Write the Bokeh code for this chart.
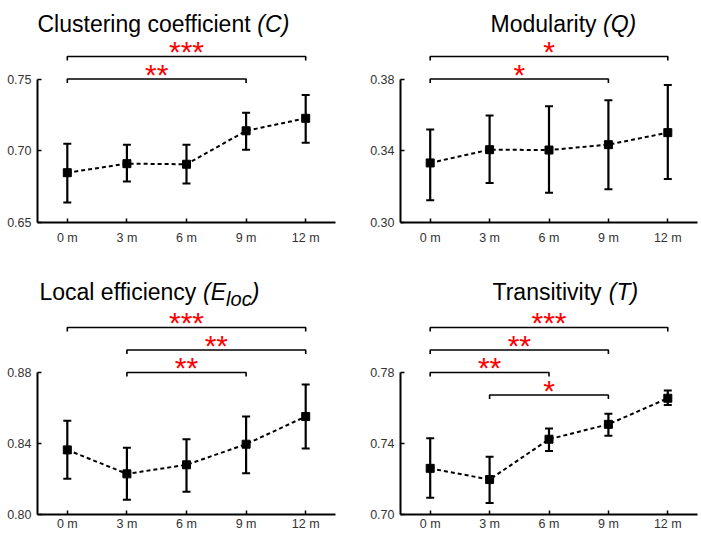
from bokeh.plotting import figure
from bokeh.layouts import row, column
from bokeh.models import Range1d, FixedTicker, PrintfTickFormatter, Whisker, TeeHead, ColumnDataSource
from bokeh.core.properties import value
from bokeh.embed import file_html
from bokeh.resources import INLINE

# ---------------- data ----------------
months = ["0 m", "3 m", "6 m", "9 m", "12 m"]

C_mean = [0.6847, 0.6910, 0.6906, 0.7139, 0.7226]
C_upper = [0.7049, 0.7042, 0.7042, 0.7264, 0.7389]
C_lower = [0.6639, 0.6785, 0.6771, 0.7007, 0.7056]
C_ticks = [0.65, 0.70, 0.75]
C_sig = [(0, 3, "**", 0), (0, 4, "***", 1)]

Q_mean = [0.3332, 0.3406, 0.3404, 0.3434, 0.3501]
Q_upper = [0.3518, 0.3597, 0.3648, 0.3682, 0.3766]
Q_lower = [0.3124, 0.3220, 0.3166, 0.3186, 0.3242]
Q_ticks = [0.30, 0.34, 0.38]
Q_sig = [(0, 3, "*", 0), (0, 4, "*", 1)]

E_mean = [0.8364, 0.8229, 0.8280, 0.8396, 0.8552]
E_upper = [0.8528, 0.8376, 0.8424, 0.8552, 0.8732]
E_lower = [0.8201, 0.8083, 0.8128, 0.8233, 0.8372]
E_ticks = [0.80, 0.84, 0.88]
E_sig = [(1, 3, "**", 0), (1, 4, "**", 1), (0, 4, "***", 2)]

T_mean = [0.7260, 0.7197, 0.7424, 0.7508, 0.7655]
T_upper = [0.7430, 0.7326, 0.7484, 0.7568, 0.7698]
T_lower = [0.7095, 0.7065, 0.7358, 0.7443, 0.7617]
T_ticks = [0.70, 0.74, 0.78]
T_sig = [(1, 3, "*", -1), (0, 2, "**", 0), (0, 3, "**", 1), (0, 4, "***", 2)]

# ---------------- layout helpers ----------------
FONT = "Liberation Sans"
TITLE_SIZE = 23
CW = {"C": 722, "l": 222, "u": 556, "s": 500, "t": 278, "e": 556, "r": 333, "i": 222,
      "n": 556, "g": 556, "c": 500, "o": 556, "f": 278, "M": 833, "d": 556, "a": 556,
      "y": 500, "L": 556, "T": 611, "v": 500, " ": 278, "(": 333, ")": 333, "E": 667,
      "Q": 778}


def tw(s, size):
    return sum(CW[ch] for ch in s) / 1000.0 * size


COLS = [dict(width=350, bl=37, br=15, frame_left=37),
        dict(width=350, bl=50, br=3, frame_left=400)]
ROWS = [dict(height=266, bb=44, top=0, axis=222, ttick=78.5, standoff=8, tbase=23),
        dict(height=269, bb=21, top=266, axis=514, ttick=372, standoff=2, tbase=291)]


def panel(ci, ri, title_parts, title_left, mean, upper, lower, yticks, sig):
    c, r = COLS[ci], ROWS[ri]
    fw = c["width"] - c["bl"] - c["br"]
    fh = r["height"] - r["bb"]
    ylo, yhi = yticks[0], yticks[-1]
    ppu = (r["axis"] - r["ttick"]) / (yhi - ylo)
    ppx = fw / 5.0
    yend = ylo + fh / ppu

    def X(px):
        return -0.5 + (px - c["frame_left"]) / ppx

    def Y(py):
        return ylo + (r["axis"] - py) / ppu

    p = figure(width=c["width"], height=r["height"], output_backend="svg", toolbar_location=None,
               x_range=Range1d(-0.5, 4.5), y_range=Range1d(ylo, yend),
               min_border_left=c["bl"], min_border_right=c["br"], min_border_top=0,
               min_border_bottom=r["bb"])
    p.outline_line_color = None
    p.grid.visible = False
    p.background_fill_color = "white"
    p.border_fill_color = "white"

    for ax in (p.xaxis[0], p.yaxis[0]):
        ax.axis_line_width = 2
        ax.axis_line_color = "black"
        ax.major_tick_in = 4
        ax.major_tick_out = 0
        ax.major_tick_line_width = 1.5
        ax.major_tick_line_color = "black"
        ax.minor_tick_line_color = None
        ax.major_label_text_font = FONT
        ax.major_label_text_font_size = "12.5px"
        ax.major_label_text_color = "#333333"
    p.xaxis.ticker = FixedTicker(ticks=list(range(len(months))))
    p.xaxis.major_label_overrides = {i: m for i, m in enumerate(months)}
    p.xaxis.major_label_standoff = r["standoff"]
    p.yaxis.ticker = FixedTicker(ticks=yticks)
    p.yaxis.formatter = PrintfTickFormatter(format="%.2f")
    p.yaxis.bounds = (ylo, yhi)
    p.yaxis.major_label_standoff = 6

    xs = list(range(len(months)))
    src = ColumnDataSource(dict(x=xs, mean=mean, upper=upper, lower=lower))
    p.line("x", "mean", source=src, line_dash="4 3", line_width=2, line_color="black")
    wh = Whisker(base="x", upper="upper", lower="lower", source=src, line_width=2.2,
                 line_color="black",
                 upper_head=TeeHead(size=8, line_width=2, line_color="black"),
                 lower_head=TeeHead(size=8, line_width=2, line_color="black"))
    p.add_layout(wh)
    p.scatter("x", "mean", source=src, marker="square", size=8, color="black")

    # significance brackets
    d = 4.0 / ppu
    bxs, bys, sx, sy, st = [], [], [], [], []
    for a, b, stars, lvl in sig:
        yb = Y(r["ttick"] - lvl * 22.5)
        bxs.append([a, a, b, b])
        bys.append([yb - d, yb, yb, yb - d])
        sx.append((a + b) / 2.0)
        sy.append(yb)
        st.append(stars)
    p.multi_line(bxs, bys, line_color="black", line_width=1.6)
    p.text(sx, sy, text=st, text_color="red", text_align="center", text_baseline="alphabetic",
           y_offset=-5, text_font=value(FONT), text_font_size=value("30px"))

    # title
    yb = Y(r["tbase"])
    xpx = title_left
    for txt, style, size, dy in title_parts:
        p.text([X(xpx)], [yb], text=[txt], text_font=value(FONT), text_font_size=value(f"{size}px"),
               text_font_style=style, text_color="black", text_align="left",
               text_baseline="alphabetic", y_offset=dy)
        xpx += tw(txt, size)
    return p


p1 = panel(0, 0, [("Clustering coefficient ", "normal", TITLE_SIZE, 0), ("(C)", "italic", TITLE_SIZE, 0)],
           37, C_mean, C_upper, C_lower, C_ticks, C_sig)
p2 = panel(1, 0, [("Modularity ", "normal", TITLE_SIZE, 0), ("(Q)", "italic", TITLE_SIZE, 0)],
           490, Q_mean, Q_upper, Q_lower, Q_ticks, Q_sig)
p3 = panel(0, 1, [("Local efficiency ", "normal", TITLE_SIZE, 0), ("(E", "italic", TITLE_SIZE, 0),
                  ("loc", "italic", 20, 7), (")", "italic", TITLE_SIZE, 0)],
           39, E_mean, E_upper, E_lower, E_ticks, E_sig)
p4 = panel(1, 1, [("Transitivity ", "normal", TITLE_SIZE, 0), ("(T)", "italic", TITLE_SIZE, 0)],
           492, T_mean, T_upper, T_lower, T_ticks, T_sig)

layout = column(row(p1, p2, spacing=0), row(p3, p4, spacing=0), spacing=0)

with open("out.html", "w") as f:
    f.write(file_html(layout, INLINE))
